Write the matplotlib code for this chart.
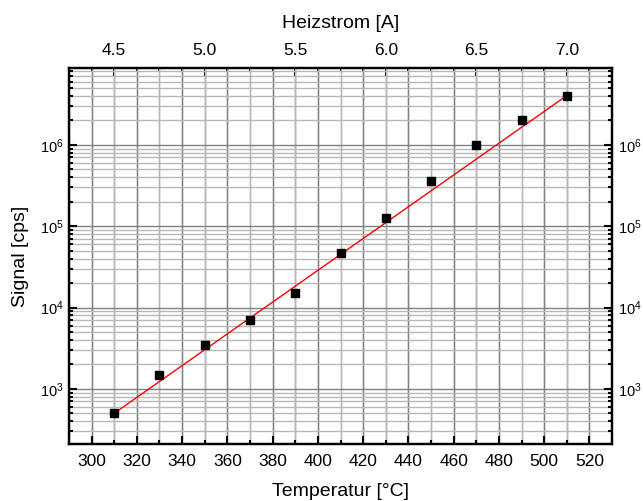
import numpy as np
import matplotlib.pyplot as plt
from matplotlib import ticker

plt.rcParams['font.family'] = ['Liberation Sans', 'DejaVu Sans']
plt.rcParams['mathtext.fontset'] = 'custom'
plt.rcParams['mathtext.rm'] = 'Liberation Sans'

# measured signal vs. oven temperature
temperature = [310, 330, 350, 370, 390, 410, 430, 450, 470, 490, 510]
signal = [500, 1500, 3500, 7000, 15000, 47000, 125000, 360000, 1.0e6, 2.0e6, 4.0e6]

# exponential fit, log10(signal) = fit_a + fit_b * T
fit_a = 2.70 - 0.019525 * 310
fit_b = 0.019525
fit_T = [310, 510]

# heating current scale on top: 4.5 A at 310 C, 0.5 A per 40 C
heiz_ticks = [4.5, 5.0, 5.5, 6.0, 6.5, 7.0]


def t_to_i(t):
    return 4.5 + (np.asarray(t) - 310) / 80.0


fig = plt.figure(figsize=(6.43, 5.01), dpi=100)
ax = fig.add_axes([0.1073, 0.1138, 0.8445, 0.7505])
ax2 = ax.twiny()
ax.set_zorder(ax2.get_zorder() + 1)
ax.patch.set_visible(False)

ax.set_yscale('log')
ax.set_xlim(290, 530)
ax.set_ylim(2.1e2, 8.8e6)
ax2.set_xlim(t_to_i(290), t_to_i(530))

# grid: darker for major, lighter for minor
ax.xaxis.set_major_locator(ticker.MultipleLocator(20))
ax.xaxis.set_minor_locator(ticker.MultipleLocator(10))
ax.yaxis.set_major_locator(ticker.LogLocator(base=10, numticks=10))
ax.yaxis.set_minor_locator(ticker.LogLocator(base=10, subs=np.arange(2, 10), numticks=20))
ax.yaxis.set_major_formatter(ticker.LogFormatterMathtext())
ax.yaxis.set_minor_formatter(ticker.NullFormatter())
ax2.xaxis.set_major_locator(ticker.FixedLocator(heiz_ticks))
ax2.xaxis.set_major_formatter(ticker.FormatStrFormatter('%.1f'))
ax2.xaxis.set_minor_locator(ticker.MultipleLocator(0.125))

ax.grid(True, which='major', color='#808080', linewidth=1.0)
ax.grid(True, which='minor', color='#b8b8b8', linewidth=1.0)
ax2.grid(True, which='major', axis='x', color='#808080', linewidth=1.0)
ax2.grid(True, which='minor', axis='x', color='#b8b8b8', linewidth=1.0)

tt = np.linspace(fit_T[0], fit_T[1], 200)
ax.plot(tt, 10 ** (fit_a + fit_b * tt), color='red', linewidth=1.0, zorder=3)
ax.plot(temperature, signal, linestyle='none', marker='s', markersize=6,
        color='black', zorder=4)

ax.tick_params(axis='both', which='both', direction='in', top=False,
               right=True, labelright=True, width=1.5)
ax.tick_params(axis='both', which='major', length=6)
ax.tick_params(axis='both', which='minor', length=3)
ax.tick_params(axis='x', pad=7, labelsize=12.5)
ax.tick_params(axis='y', which='major', pad=4, labelsize=10.5)
ax2.tick_params(axis='x', which='both', direction='in', labelsize=12.5, width=1.5, pad=7)
ax2.tick_params(axis='x', which='major', length=6)
ax2.tick_params(axis='x', which='minor', length=3)

for a in (ax, ax2):
    for s in a.spines.values():
        s.set_linewidth(1.6)

ax.set_xlabel('Temperatur [°C]', fontsize=14, labelpad=10)
ax.set_ylabel('Signal [cps]', fontsize=14, labelpad=8)
ax2.set_xlabel('Heizstrom [A]', fontsize=14, labelpad=11)

fig.savefig('out.png', dpi=100)
